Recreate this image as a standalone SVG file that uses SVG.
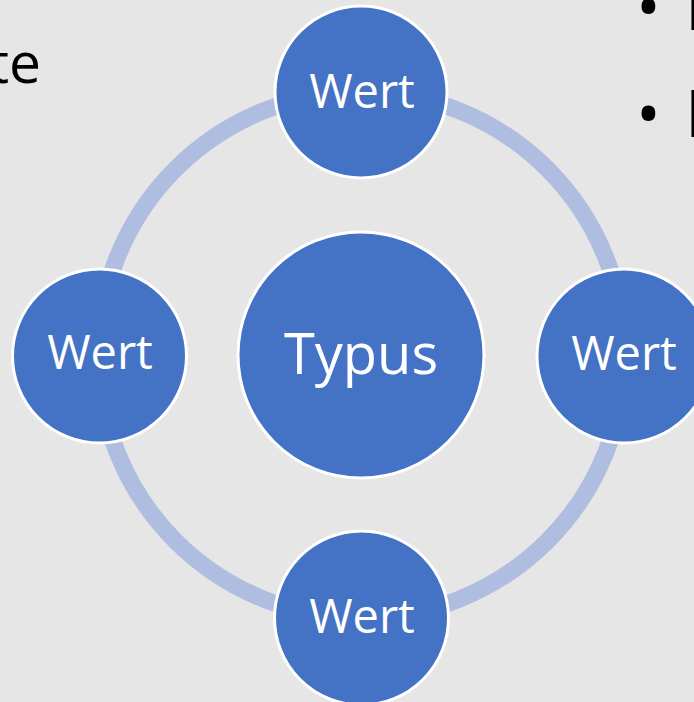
<svg xmlns="http://www.w3.org/2000/svg" width="694" height="702" viewBox="0 0 694 702">
<style>
.node{fill:#4472c4;stroke:#ffffff;stroke-width:3}
.lbl{fill:#ffffff;font-family:"Open Sans","Noto Sans",sans-serif;text-anchor:middle}
.side{fill:#000000;font-family:"Open Sans","Noto Sans",sans-serif}
</style>
<rect x="0" y="0" width="694" height="702" fill="#e7e6e6"/>
<text class="side" x="41" y="83" font-size="57" text-anchor="end">te</text>
<text class="side" x="636" y="30" font-size="66">•</text>
<text class="side" x="685" y="30" font-size="66">E</text>
<text class="side" x="636" y="137" font-size="66">•</text>
<text class="side" x="685" y="137" font-size="66">E</text>
<g id="connectors">
<circle cx="361.5" cy="355" r="263" fill="none" stroke="#afbde0" stroke-width="17"/>
</g>
<g id="center">
<circle class="node" cx="361" cy="355" r="123"/>
<text class="lbl" x="361" y="374" font-size="56">Typus</text>
</g>
<g id="top">
<circle class="node" cx="361" cy="92" r="86"/>
<text class="lbl" x="362" y="108" font-size="47">Wert</text>
</g>
<g id="left">
<circle class="node" cx="99.5" cy="356" r="87"/>
<text class="lbl" x="100" y="369" font-size="47">Wert</text>
</g>
<g id="right">
<circle class="node" cx="624" cy="356" r="87"/>
<text class="lbl" x="624" y="370" font-size="47">Wert</text>
</g>
<g id="bottom">
<circle class="node" cx="361.5" cy="618" r="87"/>
<text class="lbl" x="362" y="633" font-size="47">Wert</text>
</g>
</svg>
